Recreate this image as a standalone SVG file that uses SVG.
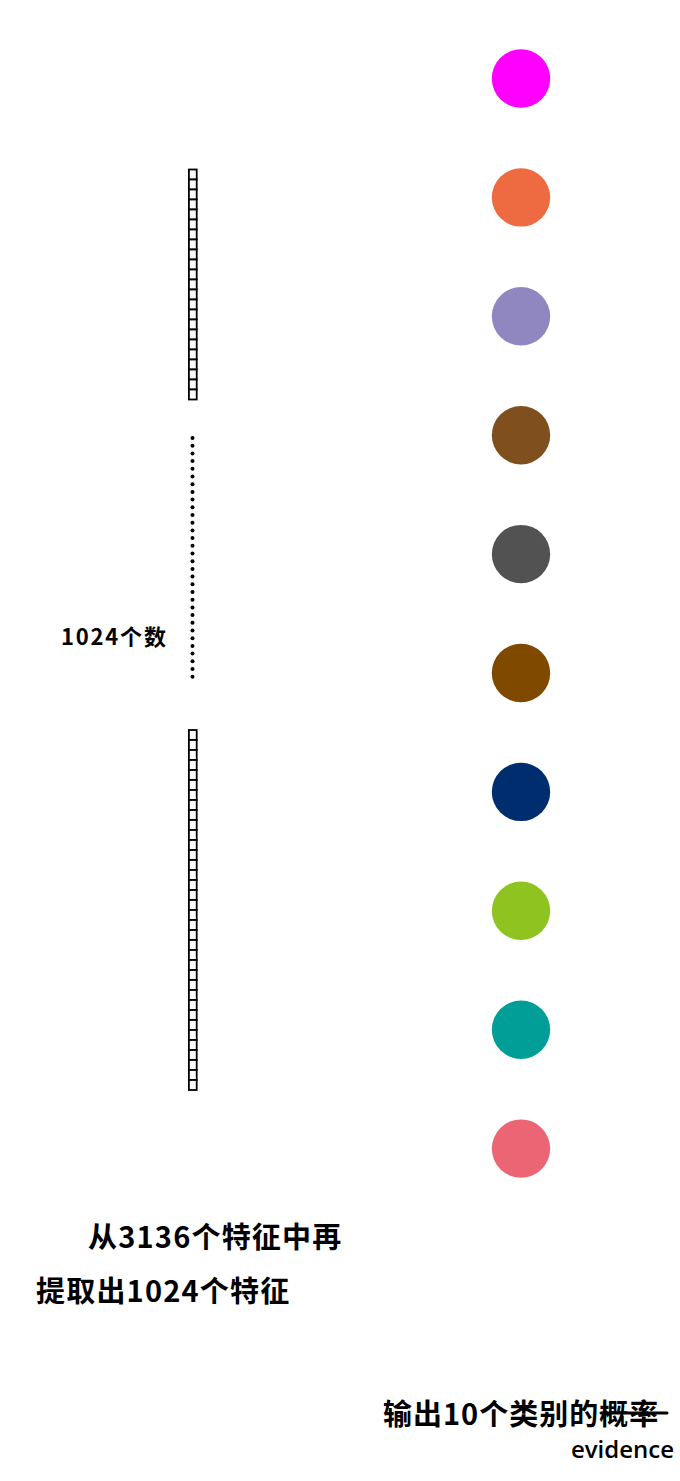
<svg xmlns="http://www.w3.org/2000/svg" width="680" height="1481" viewBox="0 0 680 1481">
<style>
.sq{fill:#fff;stroke:#000;stroke-width:1.8}
.dot{fill:#000}
.t{font-family:"Noto Sans CJK SC","Noto Sans",sans-serif;font-weight:700;fill:#000}
.e{font-family:"Open Sans","Noto Sans",sans-serif;font-weight:600;fill:#000}
</style>
<defs>
<rect id="sq" class="sq" x="188.9" y="0" width="7.8" height="10"/>
<circle id="dt" class="dot" cx="192.5" cy="0" r="2"/>
</defs>
<g id="column-top">
<use href="#sq" y="169.5"/><use href="#sq" y="179.5"/><use href="#sq" y="189.5"/><use href="#sq" y="199.5"/><use href="#sq" y="209.5"/><use href="#sq" y="219.5"/><use href="#sq" y="229.5"/><use href="#sq" y="239.5"/><use href="#sq" y="249.5"/><use href="#sq" y="259.5"/><use href="#sq" y="269.5"/><use href="#sq" y="279.5"/><use href="#sq" y="289.5"/><use href="#sq" y="299.5"/><use href="#sq" y="309.5"/><use href="#sq" y="319.5"/><use href="#sq" y="329.5"/><use href="#sq" y="339.5"/><use href="#sq" y="349.5"/><use href="#sq" y="359.5"/><use href="#sq" y="369.5"/><use href="#sq" y="379.5"/><use href="#sq" y="389.5"/>
</g>
<g id="dots">
<use href="#dt" y="438"/><use href="#dt" y="445.7"/><use href="#dt" y="453.4"/><use href="#dt" y="461.1"/><use href="#dt" y="468.8"/><use href="#dt" y="476.5"/><use href="#dt" y="484.2"/><use href="#dt" y="491.9"/><use href="#dt" y="499.6"/><use href="#dt" y="507.3"/><use href="#dt" y="515"/><use href="#dt" y="522.7"/><use href="#dt" y="530.4"/><use href="#dt" y="538.1"/><use href="#dt" y="545.8"/><use href="#dt" y="553.5"/><use href="#dt" y="561.2"/><use href="#dt" y="568.9"/><use href="#dt" y="576.6"/><use href="#dt" y="584.3"/><use href="#dt" y="592"/><use href="#dt" y="599.7"/><use href="#dt" y="607.4"/><use href="#dt" y="615.1"/><use href="#dt" y="622.8"/><use href="#dt" y="630.5"/><use href="#dt" y="638.2"/><use href="#dt" y="645.9"/><use href="#dt" y="653.6"/><use href="#dt" y="661.3"/><use href="#dt" y="669"/><use href="#dt" y="676.7"/>
</g>
<g id="column-bottom">
<use href="#sq" y="730"/><use href="#sq" y="740"/><use href="#sq" y="750"/><use href="#sq" y="760"/><use href="#sq" y="770"/><use href="#sq" y="780"/><use href="#sq" y="790"/><use href="#sq" y="800"/><use href="#sq" y="810"/><use href="#sq" y="820"/><use href="#sq" y="830"/><use href="#sq" y="840"/><use href="#sq" y="850"/><use href="#sq" y="860"/><use href="#sq" y="870"/><use href="#sq" y="880"/><use href="#sq" y="890"/><use href="#sq" y="900"/><use href="#sq" y="910"/><use href="#sq" y="920"/><use href="#sq" y="930"/><use href="#sq" y="940"/><use href="#sq" y="950"/><use href="#sq" y="960"/><use href="#sq" y="970"/><use href="#sq" y="980"/><use href="#sq" y="990"/><use href="#sq" y="1000"/><use href="#sq" y="1010"/><use href="#sq" y="1020"/><use href="#sq" y="1030"/><use href="#sq" y="1040"/><use href="#sq" y="1050"/><use href="#sq" y="1060"/><use href="#sq" y="1070"/><use href="#sq" y="1080"/>
</g>
<g id="outputs">
<circle id="o1" cx="521" cy="78.5" r="29.2" fill="#FF00FF"/>
<circle id="o2" cx="521" cy="197.4" r="29.2" fill="#EE6A41"/>
<circle id="o3" cx="521" cy="316.3" r="29.2" fill="#9187C0"/>
<circle id="o4" cx="521" cy="435.2" r="29.2" fill="#7F4F1E"/>
<circle id="o5" cx="521" cy="554.1" r="29.2" fill="#525252"/>
<circle id="o6" cx="521" cy="673" r="29.2" fill="#7F4A00"/>
<circle id="o7" cx="521" cy="791.9" r="29.2" fill="#002D6E"/>
<circle id="o8" cx="521" cy="910.8" r="29.2" fill="#8FC31F"/>
<circle id="o9" cx="521" cy="1029.7" r="29.2" fill="#009E96"/>
<circle id="o10" cx="521" cy="1148.6" r="29.2" fill="#EC6575"/>
</g>
<g id="labels">
<text class="t" x="61" y="645" font-size="22" letter-spacing="1.8">1024个数</text>
<text class="t" x="88" y="1248" font-size="29" letter-spacing="1.2">从3136个特征中再</text>
<text class="t" x="36" y="1302" font-size="29" letter-spacing="1.2">提取出1024个特征</text>
<text class="t" x="383" y="1425" font-size="29" letter-spacing="1">输出10个类别的概率</text>
<line x1="601" y1="1413" x2="667" y2="1413" stroke="#000" stroke-width="3" stroke-linecap="round"/>
<text class="e" x="674" y="1458" font-size="24" text-anchor="end">evidence</text>
</g>
</svg>
